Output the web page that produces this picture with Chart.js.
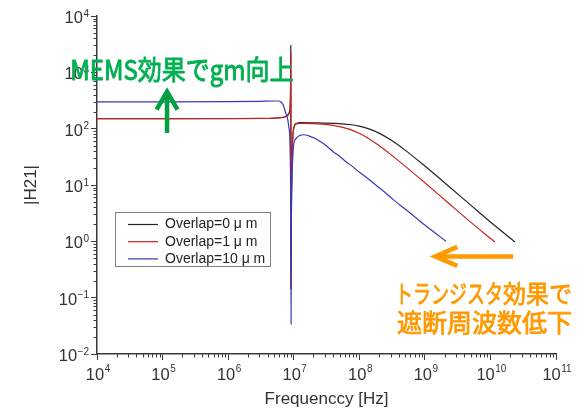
<!DOCTYPE html>
<html>
<head>
<meta charset="utf-8">
<script src="https://cdn.jsdelivr.net/npm/chart.js@4/dist/chart.umd.min.js"></script>
<style>
html,body{margin:0;padding:0;background:#fff;}
#wrap{width:579px;height:408px;position:relative;}
</style>
</head>
<body>
<div id="wrap"><canvas id="c" width="579" height="408"></canvas></div>
<script>
// ---------- data ----------
const seriesNames = ['Overlap=0 \u03bc m', 'Overlap=1 \u03bc m', 'Overlap=10 \u03bc m'];

const freqBlack = [1e4, 1e5, 1e6, 3e6, 5e6, 6.5e6, 7.5e6, 8.2e6, 8.6e6, 8.85e6, 8.97e6, 9.03e6, 9.08e6, 9.12e6, 9.2e6, 9.35e6, 9.6e6, 9.9e6, 1.03e7, 1.1e7, 1.25e7, 2e7, 5e7, 7e7, 1e8, 1.4e8, 2e8, 3e8, 5e8, 1e9, 2e9, 5e9, 1e10, 2.38e10];
const magBlack  = [150, 150, 150.5, 151.5, 153, 157, 163, 175, 195, 260, 700, 3000, 1.2, 0.14, 2.5, 20, 60, 95, 115, 124, 127.5, 127, 123, 118.5, 110.6, 99, 83.4, 63.5, 41.6, 21.7, 11, 4.4, 2.2, 0.97];

const freqRed = [1e4, 1e5, 1e6, 3e6, 5e6, 6.5e6, 7.5e6, 8.2e6, 8.6e6, 8.85e6, 8.97e6, 9.04e6, 9.09e6, 9.13e6, 9.2e6, 9.35e6, 9.6e6, 9.9e6, 1.03e7, 1.1e7, 1.25e7, 2e7, 3e7, 5e7, 7e7, 1e8, 1.4e8, 2e8, 3e8, 5e8, 1e9, 2e9, 5e9, 1.17e10];
const magRed  = [151, 151, 151.5, 152.5, 154, 158, 165, 178, 200, 270, 650, 2200, 1.3, 0.15, 3, 20, 58, 93, 113, 121.5, 124.5, 122.8, 119, 109, 98, 82.7, 66.5, 50.2, 35, 21.6, 10.95, 5.48, 2.19, 0.97];

const freqBlue = [1e4, 1e5, 1e6, 3e6, 5e6, 5.8e6, 6.4e6, 6.9e6, 7.4e6, 8.0e6, 8.4e6, 8.75e6, 8.95e6, 9.05e6, 9.12e6, 9.2e6, 9.4e6, 9.7e6, 1.0e7, 1.1e7, 1.25e7, 1.4e7, 1.6e7, 1.8e7, 2e7, 2.5e7, 3e7, 4e7, 5e7, 6e7, 8e7, 1e8, 1.5e8, 2e8, 2.5e8, 3.3e8, 4.5e8, 6e8, 7.7e8, 1e9, 1.5e9, 2.1e9];
const magBlue  = [300, 300, 302, 306, 310, 310, 298, 265, 205, 155, 110, 60, 12, 1.2, 0.034, 1.5, 12, 32, 52, 68, 76, 78, 76.5, 72.5, 69, 60, 52, 39, 32.5, 27, 21, 17, 11.8, 9, 7.3, 5.5, 4.1, 3.15, 2.5, 1.95, 1.35, 1.0];

const xTickValues = [1e4, 1e5, 1e6, 1e7, 1e8, 1e9, 1e10, 1e11];
const xTickExponents = ['4', '5', '6', '7', '8', '9', '10', '11'];
const yTickValues = [1e-2, 1e-1, 1e0, 1e1, 1e2, 1e3, 1e4];
const yTickExponents = ['\u22122', '\u22121', '0', '1', '2', '3', '4'];
const tickBase = '10';
const minorMultipliers = [2, 3, 4, 5, 6, 7, 8, 9];

const xTitle = 'Frequenccy [Hz]';
const yTitle = '|H21|';
const noteGreen = 'MEMS効果でgm向上';
const noteOrange1a = 'トランジスタ';
const noteOrange1b = '効果で';
const noteOrange2 = '遮断周波数低下';

// ---------- styles ----------
const colors = ['#222222', '#cc2020', '#3838b8'];
const axisColor = '#3a3a3a';
const textColor = '#333333';
const green = '#00b050';
const greenArrow = '#00a040';
const orange = '#ff9900';
const latin = '"Liberation Sans", Arial, sans-serif';
const cjk = '"Noto Sans CJK JP", sans-serif';

function toPoints(fs, ms) { return fs.map((f, i) => ({x: f, y: ms[i]})); }

const datasets = [
  {label: seriesNames[0], data: toPoints(freqBlack, magBlack), borderColor: colors[0], order: 2},
  {label: seriesNames[1], data: toPoints(freqRed, magRed), borderColor: colors[1], order: 1},
  {label: seriesNames[2], data: toPoints(freqBlue, magBlue), borderColor: colors[2], order: 0}
].map(d => Object.assign(d, {borderWidth: 1.2, pointRadius: 0, cubicInterpolationMode: 'monotone', fill: false}));

function arrow(ctx, x1, y1, x2, y2, wingLen, wingHalf, color, lw) {
  const ang = Math.atan2(y2 - y1, x2 - x1);
  const bx = x2 - Math.cos(ang) * wingLen, by = y2 - Math.sin(ang) * wingLen;
  const nx = -Math.sin(ang) * wingHalf, ny = Math.cos(ang) * wingHalf;
  ctx.save();
  ctx.strokeStyle = color; ctx.lineWidth = lw; ctx.lineCap = 'butt'; ctx.lineJoin = 'miter';
  ctx.beginPath(); ctx.moveTo(x1, y1); ctx.lineTo(x2 - Math.cos(ang) * 1.5, y2 - Math.sin(ang) * 1.5); ctx.stroke();
  ctx.beginPath(); ctx.moveTo(bx + nx, by + ny); ctx.lineTo(x2, y2); ctx.lineTo(bx - nx, by - ny); ctx.stroke();
  ctx.restore();
}

function heavyText(ctx, text, x, y, maxW, color, sw) {
  ctx.fillStyle = color; ctx.strokeStyle = color; ctx.lineWidth = sw; ctx.lineJoin = 'round';
  ctx.fillText(text, x, y, maxW);
  ctx.strokeText(text, x, y, maxW);
}

// draws "10" with a raised exponent; anchor: 'center' (x) or 'right' (y)
function powLabel(ctx, exp, x, baseline, anchor, raise) {
  ctx.font = '16.5px ' + latin;
  const wb = ctx.measureText(tickBase).width;
  ctx.font = '10px ' + latin;
  const we = ctx.measureText(exp).width;
  const total = wb + we + 0.5;
  const left = anchor === 'right' ? x - total : x - total / 2 + 1;
  ctx.fillStyle = textColor; ctx.textAlign = 'left'; ctx.textBaseline = 'alphabetic';
  ctx.font = '16.5px ' + latin;
  ctx.fillText(tickBase, left, baseline);
  ctx.font = '10px ' + latin;
  ctx.fillText(exp, left + wb + 0.5, baseline - raise);
}

const extras = {
  id: 'extras',
  afterDraw(chart) {
    const {ctx, chartArea: ca, scales: {x, y}} = chart;
    ctx.save();
    // minor ticks
    ctx.strokeStyle = axisColor; ctx.lineWidth = 1;
    for (let i = 0; i < xTickValues.length - 1; i++) {
      for (const m of minorMultipliers) {
        const px = Math.round(x.getPixelForValue(xTickValues[i] * m)) + 0.5;
        ctx.beginPath(); ctx.moveTo(px, ca.bottom); ctx.lineTo(px, ca.bottom + 3.5); ctx.stroke();
      }
    }
    for (let i = 0; i < yTickValues.length - 1; i++) {
      for (const m of minorMultipliers) {
        const py = Math.round(y.getPixelForValue(yTickValues[i] * m)) + 0.5;
        ctx.beginPath(); ctx.moveTo(ca.left, py); ctx.lineTo(ca.left - 3.5, py); ctx.stroke();
      }
    }
    // tick labels with superscript exponents
    xTickValues.forEach((v, i) => powLabel(ctx, xTickExponents[i], x.getPixelForValue(v), ca.bottom + 26, 'center', 8));
    yTickValues.forEach((v, i) => powLabel(ctx, yTickExponents[i], ca.left - 8, y.getPixelForValue(v) + 7, 'right', 6.5));
    // legend box
    const lx = ca.left + 18, ly = ca.top + 196, lw = 155, lh = 54;
    ctx.fillStyle = '#fff'; ctx.fillRect(lx, ly, lw, lh);
    ctx.strokeStyle = '#808080'; ctx.lineWidth = 1;
    ctx.strokeRect(Math.round(lx) + 0.5, Math.round(ly) + 0.5, lw, lh);
    ctx.font = '14px ' + latin;
    ctx.textBaseline = 'middle'; ctx.textAlign = 'left';
    for (let i = 0; i < 3; i++) {
      const ry = ly + 12.5 + i * 17.2;
      ctx.strokeStyle = colors[i]; ctx.lineWidth = 1.2;
      ctx.beginPath(); ctx.moveTo(lx + 13, ry); ctx.lineTo(lx + 43, ry); ctx.stroke();
      ctx.fillStyle = '#222'; ctx.fillText(seriesNames[i], lx + 50, ry);
    }
    // green note
    const gx = x.getPixelForValue(3.92e3), gy = y.getPixelForValue(733);
    ctx.save();
    ctx.translate(gx, gy); ctx.scale(1, 1.15);
    ctx.font = '24px ' + cjk;
    ctx.textAlign = 'left'; ctx.textBaseline = 'alphabetic';
    heavyText(ctx, noteGreen, 0, 0, 230, green, 0.8);
    ctx.restore();
    // green arrow
    const ax = x.getPixelForValue(1.17e5);
    arrow(ctx, ax, y.getPixelForValue(84), ax, y.getPixelForValue(455), 18, 10.5, greenArrow, 4.5);
    // orange arrow
    const oy = y.getPixelForValue(0.54);
    arrow(ctx, x.getPixelForValue(2.22e10), oy, x.getPixelForValue(1.44e9), oy, 22, 9.5, orange, 4.5);
    // orange notes
    ctx.textAlign = 'right'; ctx.textBaseline = 'alphabetic';
    ctx.font = '25px ' + cjk;
    const rx = x.getPixelForValue(1.76e11);
    const y1 = y.getPixelForValue(0.08), y2 = y.getPixelForValue(0.0249);
    heavyText(ctx, noteOrange1b, rx, y1, 69, orange, 0.8);
    heavyText(ctx, noteOrange1a, rx - 69, y1, 108, orange, 0.8);
    heavyText(ctx, noteOrange2, rx, y2, 180, orange, 0.8);
    ctx.restore();
  }
};

new Chart(document.getElementById('c'), {
  type: 'line',
  data: {datasets},
  options: {
    responsive: false,
    animation: false,
    devicePixelRatio: 1,
    layout: {padding: {left: 0, right: 23, top: 16, bottom: 0}},
    plugins: {legend: {display: false}, tooltip: {enabled: false}},
    scales: {
      x: {
        type: 'logarithmic', position: 'bottom', min: 1e4, max: 1e11,
        afterBuildTicks: s => { s.ticks = xTickValues.map(v => ({value: v, major: true})); },
        afterFit: s => { s.height = 54; },
        grid: {drawOnChartArea: false, drawTicks: true, tickLength: 6, tickColor: axisColor, tickWidth: 1},
        border: {display: true, color: axisColor, width: 1.5},
        ticks: {display: false, autoSkip: false},
        title: {display: true, text: xTitle, color: textColor, padding: {top: 0, bottom: 0},
          font: {family: latin, size: 17, lineHeight: 1}}
      },
      y: {
        type: 'logarithmic', position: 'left', min: 1e-2, max: 1e4,
        afterBuildTicks: s => { s.ticks = yTickValues.map(v => ({value: v, major: true})); },
        afterFit: s => { s.width = 97; },
        grid: {drawOnChartArea: false, drawTicks: true, tickLength: 6, tickColor: axisColor, tickWidth: 1},
        border: {display: true, color: axisColor, width: 1.5},
        ticks: {display: false, autoSkip: false},
        title: {display: true, text: yTitle, color: textColor, padding: {top: 23, bottom: 0},
          font: {family: latin, size: 17, lineHeight: 1}}
      }
    }
  },
  plugins: [extras]
});
</script>
</body>
</html>
